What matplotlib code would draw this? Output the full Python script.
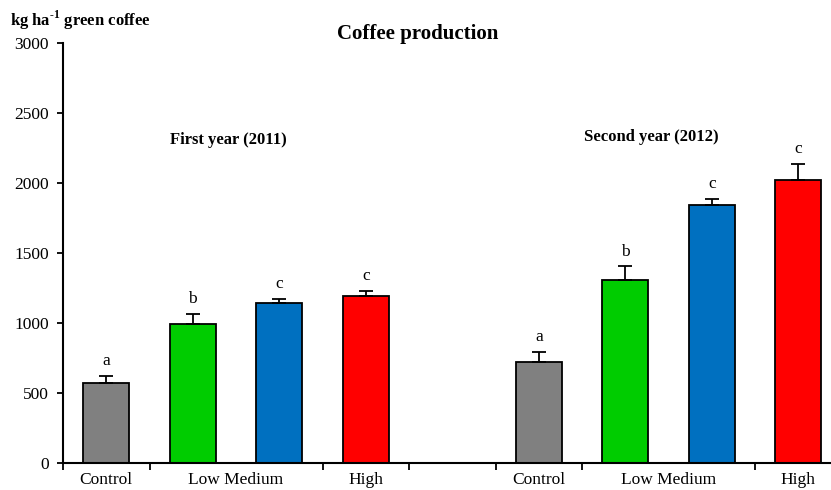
import matplotlib
matplotlib.use("Agg")
import matplotlib.pyplot as plt
import numpy as np

plt.rcParams['font.family'] = ['Liberation Serif', 'DejaVu Serif']
plt.rcParams['mathtext.fontset'] = 'custom'
plt.rcParams['mathtext.rm'] = 'Liberation Serif:bold'
plt.rcParams['mathtext.bf'] = 'Liberation Serif:bold'

# data (kg/ha green coffee)
treatments = ["Control", "Low", "Medium", "High"]
year_2011 = [571, 997, 1145, 1192]
err_2011 = [52, 72, 30, 38]
year_2012 = [723, 1309, 1843, 2024]
err_2012 = [75, 96, 45, 112]
letters_2011 = ["a", "b", "c", "c"]
letters_2012 = ["a", "b", "c", "c"]
colors = ["#808080", "#00CC00", "#0070C0", "#FF0000"]

# slot positions: 4 bars, one empty slot, 4 bars
pos_2011 = np.arange(4)
pos_2012 = np.arange(5, 9)

fig = plt.figure(figsize=(8.31, 4.90), dpi=100)
ax = fig.add_axes([63/831, 26.7/490, 9*86.5/831, 420.3/490])

for pos, vals, errs, lets in [(pos_2011, year_2011, err_2011, letters_2011),
                              (pos_2012, year_2012, err_2012, letters_2012)]:
    ax.bar(pos, vals, width=0.53, color=colors, edgecolor="black", linewidth=1.3,
           zorder=2)
    ax.errorbar(pos, vals, yerr=[np.zeros(len(vals)), errs], fmt="none",
                ecolor="black", elinewidth=1.3, capsize=5, capthick=1.3, zorder=3)
    for x, v, e, l in zip(pos, vals, errs, lets):
        ax.annotate(l, (x, v + e), xytext=(0, 5), textcoords="offset points",
                    ha="center", va="bottom", fontsize=12.5)

ax.set_xlim(-0.5, 8.5)
ax.set_ylim(0, 3000)
ax.set_yticks(np.arange(0, 3001, 500))
ax.tick_params(axis="y", direction="out", length=4, width=1.3, labelsize=12.5, pad=6)

# category labels like the original sheet
ax.set_xticks([0, 1.5, 3, 5, 6.5, 8])
ax.set_xticklabels(["Control", "Low Medium", "High", "Control", "Low Medium", "High"])
ax.tick_params(axis="x", which="major", length=0, labelsize=12.5, pad=6)
ax.set_xticks(np.arange(-0.5, 9, 1), minor=True)
ax.tick_params(axis="x", which="minor", direction="out", length=5, width=1.3)

ax.spines["top"].set_visible(False)
ax.spines["right"].set_visible(False)
ax.spines["left"].set_linewidth(1.5)
ax.spines["bottom"].set_linewidth(1.5)
ax.spines["bottom"].set_zorder(4)

ax.text(1.41, 2310, "First year (2011)", ha="center", va="center",
        fontsize=12, fontweight="bold")
ax.text(6.3, 2330, "Second year (2012)", ha="center", va="center",
        fontsize=12, fontweight="bold")

fig.text(418/831, 1 - 34/490, "Coffee production", ha="center", va="center",
         fontsize=15, fontweight="bold")
fig.text(10/831, 1 - 20/490, r"kg ha$^{\text{-1}}$ green coffee", ha="left",
         va="center", fontsize=12, fontweight="bold")

fig.savefig("out.png", dpi=100)
